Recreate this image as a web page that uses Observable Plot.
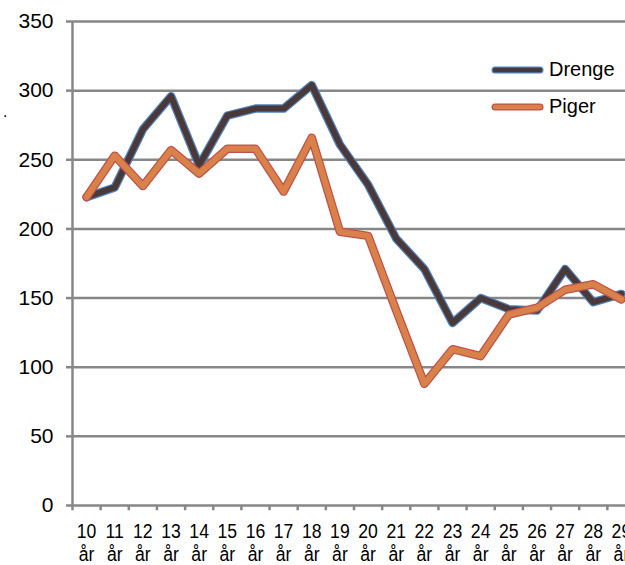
<!DOCTYPE html>
<html>
<head>
<meta charset="utf-8">
<script src="https://cdn.jsdelivr.net/npm/d3@7"></script>
<script src="https://cdn.jsdelivr.net/npm/@observablehq/plot@0.6"></script>
<style>
  html, body { margin: 0; padding: 0; background: #fff; overflow: hidden; width: 625px; height: 565px; }
  #wrap { position: relative; width: 625px; height: 565px; overflow: hidden; }
  #chart svg { max-width: none !important; display: block; }
  #legend { position: absolute; left: 490px; top: 51px; font-family: "Liberation Sans", Arial, sans-serif; font-size: 20px; color: #000; }
  .item { display: flex; align-items: center; height: 37px; }
  .item svg { margin-right: 5px; }
  #dot { position: absolute; left: 3px; top: 103px; font-family: "Liberation Sans", Arial, sans-serif; font-size: 16px; }
</style>
</head>
<body>
<div id="wrap">
  <div id="chart"></div>
  <div id="dot">.</div>
  <div id="legend"></div>
</div>
<script>
const categories = ["10 år","11 år","12 år","13 år","14 år","15 år","16 år","17 år","18 år","19 år",
                    "20 år","21 år","22 år","23 år","24 år","25 år","26 år","27 år","28 år","29 år"];
const drenge = [223, 230, 272, 296, 246, 282, 287, 287, 304, 261, 232, 193, 171, 132, 150, 142, 141, 171, 147, 153];
const piger  = [223, 253, 231, 257, 240, 258, 258, 227, 266, 198, 195, 141, 88, 113, 108, 138, 143, 156, 160, 149];
const yTicks = [0, 50, 100, 150, 200, 250, 300, 350];
const seriesNames = ["Drenge", "Piger"];
const outerColors = ["#4f81bd", "#c0504d"];
const innerColors = ["#4b3939", "#d8824a"];

const idx = categories.map((c, i) => i);
const bounds = d3.range(categories.length + 1).map(i => i - 0.5);
const grid = "#878787";

function seriesMarks(values, k) {
  return [
    Plot.line(values, {x: (d, i) => i, y: d => d, stroke: outerColors[k], strokeWidth: 8.5, strokeLinejoin: "round", strokeLinecap: "round"}),
    Plot.line(values, {x: (d, i) => i, y: d => d, stroke: innerColors[k], strokeWidth: 6, strokeLinejoin: "round", strokeLinecap: "round"})
  ];
}

const chart = Plot.plot({
  width: 640,
  height: 565,
  marginLeft: 72,
  marginRight: 5,
  marginTop: 21,
  marginBottom: 60,
  x: {type: "linear", domain: [-0.5, categories.length - 0.5], axis: null},
  y: {domain: [0, 350], axis: null},
  style: {fontFamily: "'Liberation Sans', Arial, sans-serif", fontSize: "20px", color: "#000", background: "#fff", maxWidth: "none"},
  marks: [
    Plot.ruleY(yTicks, {stroke: grid, strokeWidth: 2.5}),
    Plot.ruleX([bounds[0]], {stroke: grid, strokeWidth: 2.5}),
    Plot.ruleX(bounds, {y1: 0, y2: -3.8, stroke: grid, strokeWidth: 2.5}),
    Plot.axisY(yTicks, {tickSize: 6, tickPadding: 13, stroke: grid, strokeWidth: 2.5, fontSize: 21, fill: "#000", tickFormat: d => String(d)}),
    Plot.axisX(idx, {tickSize: 0, tickPadding: 16, fill: "#000", fontSize: 21, lineHeight: 1.1,
      tickFormat: i => categories[i].replace(" ", "\n")}),
    ...seriesMarks(drenge, 0),
    ...seriesMarks(piger, 1)
  ]
});
chart.style.maxWidth = "none";
document.getElementById("chart").appendChild(chart);

// condense the x tick labels horizontally
d3.select(chart).selectAll('g[aria-label="x-axis tick label"] text').each(function() {
  const t = this.getAttribute("transform") || "";
  this.setAttribute("transform", t + " scale(0.84,1)");
});

const legend = document.getElementById("legend");
seriesNames.forEach((name, k) => {
  const item = document.createElement("div");
  item.className = "item";
  item.innerHTML = `<svg width="54" height="10"><line x1="5" y1="5" x2="50" y2="5" stroke="${outerColors[k]}" stroke-width="7" stroke-linecap="round"/><line x1="5" y1="5" x2="50" y2="5" stroke="${innerColors[k]}" stroke-width="4.5" stroke-linecap="round"/></svg><span>${name}</span>`;
  legend.appendChild(item);
});
</script>
</body>
</html>
